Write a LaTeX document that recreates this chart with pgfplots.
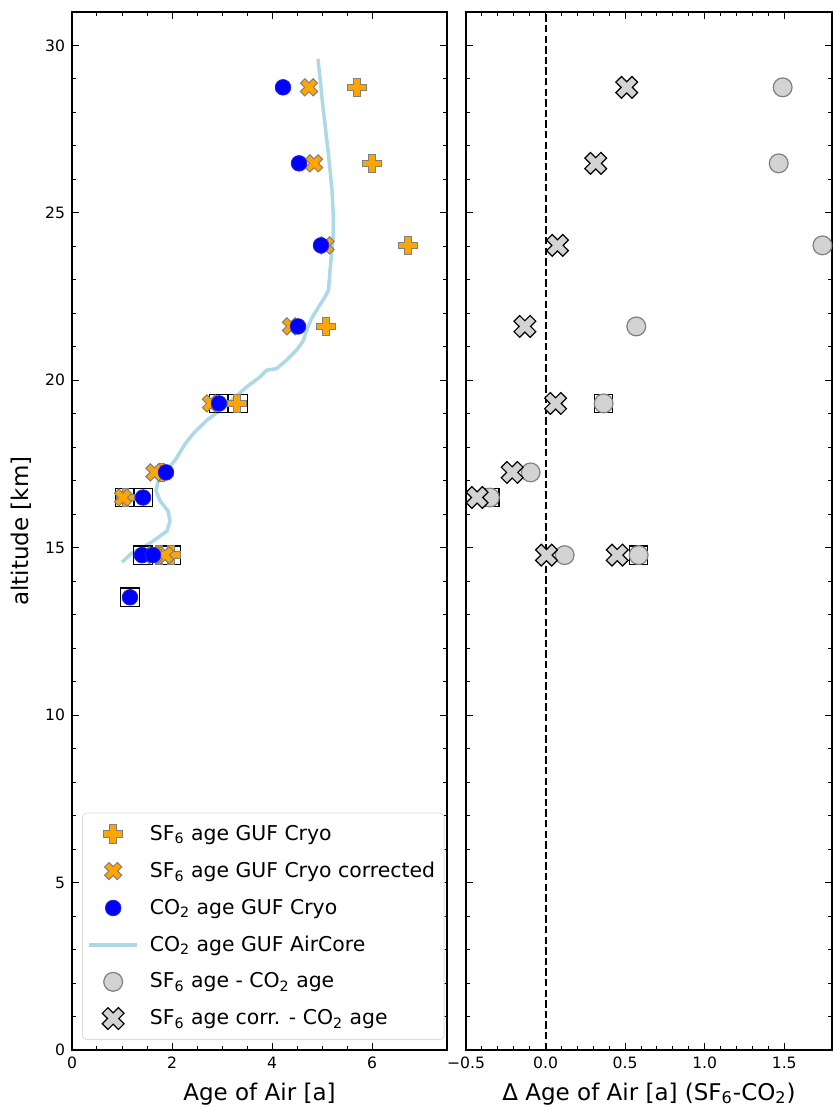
\documentclass[border=0pt]{standalone}
\usepackage{fontspec}
\setmainfont{DejaVu Sans}
\usepackage{pgfplots}
\pgfplotsset{compat=1.18}
\definecolor{mplorange}{HTML}{FFA500}
\definecolor{mplblue}{HTML}{0000FF}
\definecolor{mpllightblue}{HTML}{ADD8E6}
\definecolor{mpllightgray}{HTML}{D3D3D3}
\definecolor{mplgray}{HTML}{808080}

% filled plus and filled x, like matplotlib's P and X
\pgfdeclareplotmark{fplus}{%
  \pgfpathmoveto{\pgfqpoint{0.35\pgfplotmarksize}{\pgfplotmarksize}}%
  \pgfpathlineto{\pgfqpoint{0.35\pgfplotmarksize}{0.35\pgfplotmarksize}}%
  \pgfpathlineto{\pgfqpoint{\pgfplotmarksize}{0.35\pgfplotmarksize}}%
  \pgfpathlineto{\pgfqpoint{\pgfplotmarksize}{-0.35\pgfplotmarksize}}%
  \pgfpathlineto{\pgfqpoint{0.35\pgfplotmarksize}{-0.35\pgfplotmarksize}}%
  \pgfpathlineto{\pgfqpoint{0.35\pgfplotmarksize}{-\pgfplotmarksize}}%
  \pgfpathlineto{\pgfqpoint{-0.35\pgfplotmarksize}{-\pgfplotmarksize}}%
  \pgfpathlineto{\pgfqpoint{-0.35\pgfplotmarksize}{-0.35\pgfplotmarksize}}%
  \pgfpathlineto{\pgfqpoint{-\pgfplotmarksize}{-0.35\pgfplotmarksize}}%
  \pgfpathlineto{\pgfqpoint{-\pgfplotmarksize}{0.35\pgfplotmarksize}}%
  \pgfpathlineto{\pgfqpoint{-0.35\pgfplotmarksize}{0.35\pgfplotmarksize}}%
  \pgfpathlineto{\pgfqpoint{-0.35\pgfplotmarksize}{\pgfplotmarksize}}%
  \pgfpathclose
  \pgfusepathqfillstroke
}
\pgfdeclareplotmark{fx}{%
  \pgftransformrotate{45}%
  \pgfuseplotmark{fplus}%
}

\pgfplotsset{
  panel/.style={
    scale only axis, height=519pt,
    ymin=0, ymax=31,
    ytick={0,5,10,15,20,25,30},
    minor y tick num=4,
    tick align=inside,
    major tick length=3.5pt, minor tick length=2pt,
    every tick/.style={black, line width=0.5pt},
    axis line style={black, line width=0.6pt},
    tick label style={font=\fontsize{7.8}{9}\selectfont},
    label style={font=\fontsize{11.5}{13}\selectfont},
    /pgf/number format/assume math mode=true,
    xtick pos=both, ytick pos=both,
    clip=false,
  },
  sfp/.style={only marks, mark=fplus, mark size=4.6pt,
    mark options={fill=mplorange, draw=mplgray, line width=0.5pt}},
  sfx/.style={only marks, mark=fx, mark size=4.5pt,
    mark options={fill=mplorange, draw=mplgray, line width=0.5pt}},
  cob/.style={only marks, mark=*, mark size=3.9pt,
    mark options={fill=mplblue, draw=mplblue!70!gray, line width=0.4pt}},
  aircore/.style={mpllightblue, line width=1.75pt, no marks},
  aircoreleg/.style={aircore,
    legend image code/.code={\draw[##1] (-0.12cm,0cm) -- (0.72cm,0cm);}},
  dgc/.style={only marks, mark=*, mark size=4.7pt,
    mark options={fill=mpllightgray, draw=mplgray, line width=0.6pt}},
  dgx/.style={only marks, mark=fx, mark size=5.7pt,
    mark options={fill=mpllightgray, draw=black, line width=0.6pt}},
  box/.style={only marks, mark=square, mark size=4.6pt,
    mark options={draw=black, line width=0.6pt, fill=none}},
}

\begin{document}
\begin{tikzpicture}

% ---------------- left panel: ages ----------------
\begin{axis}[panel,
  at={(0pt,0pt)}, anchor=south west,
  width=187.5pt,
  xmin=0, xmax=7.5,
  xtick={0,2,4,6}, minor x tick num=3,
  xlabel={Age of Air [a]},
  ylabel={altitude [km]},
  legend style={at={(0.027,0.0096)}, anchor=south west,
    draw=mpllightgray!80, rounded corners=2pt, fill=white,
    font=\fontsize{10.2}{12}\selectfont, row sep=5.3pt,
    inner xsep=2.5pt, inner ysep=4pt,
    /tikz/every odd column/.append style={column sep=3.5pt}},
  legend cell align=left,
]
% AirCore profile
\addplot[aircore, forget plot] coordinates {
  (1.00,14.57) (1.20,14.84) (1.42,15.00) (1.70,15.28) (1.90,15.50)
  (1.96,15.80) (1.92,16.10) (1.76,16.40) (1.68,16.70) (1.72,16.96)
  (1.90,17.30) (2.10,17.70) (2.26,18.10) (2.42,18.40) (2.69,18.80)
  (2.96,19.10) (3.23,19.45) (3.49,19.80) (3.76,20.10) (3.89,20.30)
  (4.09,20.35) (4.29,20.60) (4.49,20.90) (4.63,21.19) (4.69,21.49)
  (4.79,21.84) (4.93,22.19) (5.06,22.49) (5.13,22.69) (5.16,23.28)
  (5.22,24.20) (5.23,24.80) (5.20,25.67) (5.12,26.87) (5.02,28.15)
  (4.92,29.60)
};
% boxed samples
\addplot[box, forget plot] coordinates {
  (2.93,19.31) (3.32,19.31) (1.05,16.50) (1.43,16.50)
  (1.42,14.78) (1.98,14.78) (1.16,13.52)
};
% SF6 age
\addplot[sfp, forget plot] coordinates {
  (5.70,28.75) (6.00,26.48) (6.72,24.03) (5.08,21.61) (3.30,19.31)
  (1.79,17.25) (1.07,16.50) (1.98,14.78) (1.74,14.78)
};
% SF6 age corrected
\addplot[sfx, forget plot] coordinates {
  (4.74,28.75) (4.84,26.48) (5.07,24.03) (4.38,21.61) (2.78,19.31)
  (1.65,17.25) (1.02,16.50) (1.86,14.78) (1.63,14.78)
};
% CO2 age
\addplot[cob, forget plot] coordinates {
  (4.22,28.75) (4.54,26.48) (4.98,24.03) (4.52,21.61) (2.94,19.31)
  (1.88,17.25) (1.42,16.50) (1.40,14.78) (1.62,14.78) (1.16,13.52)
};

\addlegendimage{sfp}
\addlegendentry{SF\textsubscript{6} age GUF Cryo}
\addlegendimage{sfx}
\addlegendentry{SF\textsubscript{6} age GUF Cryo corrected}
\addlegendimage{cob}
\addlegendentry{CO\textsubscript{2} age GUF Cryo}
\addlegendimage{aircoreleg}
\addlegendentry{CO\textsubscript{2} age GUF AirCore}
\addlegendimage{dgc}
\addlegendentry{SF\textsubscript{6} age - CO\textsubscript{2} age}
\addlegendimage{dgx}
\addlegendentry{SF\textsubscript{6} age corr. - CO\textsubscript{2} age}
\end{axis}

% ---------------- right panel: differences ----------------
\begin{axis}[panel,
  at={(197pt,0pt)}, anchor=south west,
  width=183pt,
  xmin=-0.5, xmax=1.8,
  xtick={-0.5,0,0.5,1,1.5},
  xticklabels={−0.5,0.0,0.5,1.0,1.5},
  minor x tick num=4,
  yticklabels={},
  xlabel={Δ Age of Air [a] (SF\textsubscript{6}-CO\textsubscript{2})},
]
\addplot[black, line width=1pt, dash pattern=on 3.7pt off 1.6pt, forget plot]
  coordinates {(0,0) (0,31)};
\addplot[box, forget plot] coordinates {
  (0.365,19.31) (-0.35,16.50) (0.585,14.78)
};
\addplot[dgc, forget plot] coordinates {
  (1.49,28.75) (1.465,26.48) (1.74,24.03) (0.57,21.61) (0.365,19.31)
  (-0.094,17.25) (-0.35,16.50) (0.12,14.78) (0.585,14.78)
};
\addplot[dgx, forget plot] coordinates {
  (0.51,28.75) (0.315,26.48) (0.075,24.03) (-0.13,21.61) (0.063,19.31)
  (-0.21,17.25) (-0.43,16.50) (0.006,14.78) (0.45,14.78)
};
\end{axis}

\pgfresetboundingbox
\path[use as bounding box] (-36pt,-28.5pt) rectangle (380pt,525pt);
\end{tikzpicture}
\end{document}
